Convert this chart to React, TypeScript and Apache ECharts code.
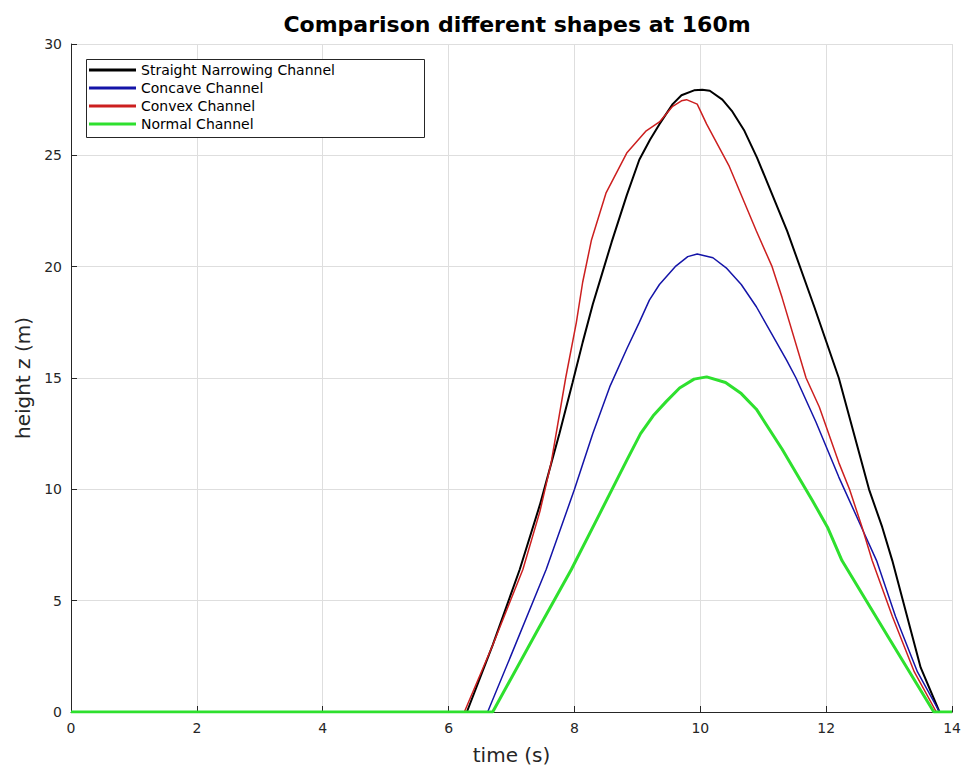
import React, { useEffect, useRef } from "react";
import * as echarts from "echarts";

const seriesNames = [
  "Straight Narrowing Channel",
  "Concave Channel",
  "Convex Channel",
  "Normal Channel",
];

const straightT = [0, 6.29, 6.7, 7.13, 7.45, 7.76, 7.97, 8.13, 8.29, 8.44, 8.59, 8.83, 9.03, 9.2, 9.35, 9.56, 9.7, 9.9, 10.03, 10.15, 10.35, 10.5, 10.7, 10.9, 11.38, 11.81, 12.2, 12.68, 12.89, 13.05, 13.5, 13.8, 14];
const straightZ = [0, 0, 3.0, 6.4, 9.3, 12.5, 14.8, 16.6, 18.3, 19.7, 21.1, 23.2, 24.8, 25.7, 26.4, 27.3, 27.7, 27.92, 27.95, 27.9, 27.5, 27.0, 26.1, 24.9, 21.6, 18.2, 15.0, 10.0, 8.3, 6.8, 2.0, 0, 0];

const concaveT = [0, 6.62, 7.0, 7.55, 8.0, 8.29, 8.56, 8.83, 9.03, 9.19, 9.35, 9.6, 9.8, 9.95, 10.2, 10.41, 10.65, 10.89, 11.37, 11.52, 11.84, 12.2, 12.56, 12.8, 13.1, 13.45, 13.8, 14];
const concaveZ = [0, 0, 2.6, 6.4, 10.0, 12.5, 14.6, 16.3, 17.5, 18.5, 19.2, 20.0, 20.45, 20.57, 20.4, 19.95, 19.2, 18.2, 15.8, 15.0, 13.0, 10.55, 8.3, 6.8, 4.3, 1.8, 0, 0];

const convexT = [0, 6.25, 6.7, 7.18, 7.45, 7.63, 7.86, 8.03, 8.13, 8.27, 8.5, 8.83, 9.14, 9.35, 9.56, 9.7, 9.78, 9.95, 10.1, 10.46, 10.89, 11.14, 11.3, 11.68, 11.89, 12.2, 12.37, 12.57, 12.73, 13.05, 13.4, 13.75, 14];
const convexZ = [0, 0, 3.0, 6.4, 9.0, 11.2, 15.0, 17.5, 19.3, 21.2, 23.3, 25.1, 26.1, 26.5, 27.2, 27.45, 27.5, 27.3, 26.4, 24.5, 21.6, 20.0, 18.6, 15.0, 13.7, 11.2, 10.0, 8.3, 6.8, 4.3, 1.8, 0, 0];

const normalT = [0, 6.7, 7.4, 7.95, 8.4, 8.83, 9.05, 9.25, 9.46, 9.67, 9.9, 10.1, 10.4, 10.65, 10.89, 11.3, 11.78, 12.02, 12.25, 13.0, 13.71, 14];
const normalZ = [0, 0, 3.6, 6.4, 8.9, 11.3, 12.5, 13.3, 13.95, 14.55, 14.95, 15.05, 14.8, 14.3, 13.6, 11.8, 9.5, 8.3, 6.8, 3.3, 0, 0];

const xTicks = [0, 2, 4, 6, 8, 10, 12, 14];
const yTicks = [0, 5, 10, 15, 20, 25, 30];

const colors = ["#000000", "#1414a8", "#cc1f1f", "#2ee02e"];
const widths = [2, 1.5, 1.5, 3];

const FONT = "DejaVu Sans";

function pairs(t: number[], z: number[]) {
  return t.map((v, i) => [v, z[i]]);
}

export default function App() {
  const ref = useRef<HTMLDivElement>(null);
  useEffect(() => {
    if (!ref.current) return;
    const chart = echarts.init(ref.current, undefined, { renderer: "svg" });
    const datasets = [
      pairs(straightT, straightZ),
      pairs(concaveT, concaveZ),
      pairs(convexT, convexZ),
      pairs(normalT, normalZ),
    ];
    chart.setOption({
      animation: false,
      backgroundColor: "#ffffff",
      textStyle: { fontFamily: FONT },
      title: {
        text: "Comparison different shapes at 160m",
        left: 512,
        textAlign: "center",
        top: 8,
        textStyle: { fontFamily: FONT, fontSize: 22, fontWeight: "bold", color: "#000" },
      },
      grid: { left: 71, right: 11, top: 44, bottom: 61, containLabel: false },
      xAxis: {
        type: "value",
        min: xTicks[0],
        max: xTicks[xTicks.length - 1],
        interval: 2,
        name: "time (s)",
        nameLocation: "middle",
        nameGap: 33,
        nameTextStyle: { fontFamily: FONT, fontSize: 20, color: "#262626" },
        axisLine: { show: true, onZero: false, lineStyle: { color: "#262626", width: 1 } },
        axisTick: { show: true, inside: true, length: 6, lineStyle: { color: "#262626" } },
        axisLabel: { fontFamily: FONT, fontSize: 14, color: "#262626", margin: 9 },
        splitLine: { show: true, lineStyle: { color: "#dedede", width: 1 } },
      },
      yAxis: {
        type: "value",
        min: yTicks[0],
        max: yTicks[yTicks.length - 1],
        interval: 5,
        name: "height z (m)",
        nameLocation: "middle",
        nameGap: 36,
        nameTextStyle: { fontFamily: FONT, fontSize: 20, color: "#262626" },
        axisLine: { show: true, onZero: false, lineStyle: { color: "#262626", width: 1 } },
        axisTick: { show: true, inside: true, length: 6, lineStyle: { color: "#262626" } },
        axisLabel: { fontFamily: FONT, fontSize: 14, color: "#262626", margin: 9 },
        splitLine: { show: true, lineStyle: { color: "#dedede", width: 1 } },
      },
      legend: {
        orient: "vertical",
        left: 85,
        top: 63,
        z: 10,
        icon: "rect",
        itemWidth: 47,
        itemHeight: 3,
        itemGap: 4,
        padding: [0, 4, 0, 4],
        textStyle: { fontFamily: FONT, fontSize: 14, color: "#000" },
        data: seriesNames,
      },
      graphic: [
        {
          type: "rect",
          left: 86,
          top: 59,
          z: 5,
          shape: { width: 338, height: 78 },
          style: { fill: "#ffffff", stroke: "#262626", lineWidth: 1 },
        },
      ],
      series: seriesNames.map((name, i) => ({
        name,
        type: "line",
        data: datasets[i],
        showSymbol: false,
        symbol: "none",
        smooth: false,
        color: colors[i],
        lineStyle: { color: colors[i], width: widths[i] },
        z: 2 + i,
      })),
    });
    return () => chart.dispose();
  }, []);
  return (
    <div
      ref={ref}
      style={{ position: "fixed", left: 0, top: 0, width: 964, height: 773 }}
    />
  );
}
